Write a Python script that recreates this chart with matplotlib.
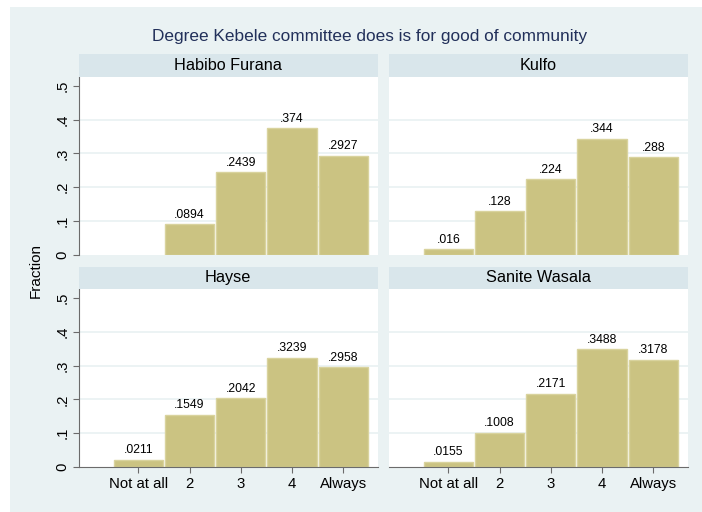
import matplotlib.pyplot as plt
from matplotlib.patches import Rectangle

plt.rcParams['font.family'] = ['Liberation Sans', 'DejaVu Sans']

categories = ['Not at all', '2', '3', '4', 'Always']
habibo = [0, 0.0894, 0.2439, 0.374, 0.2927]
kulfo = [0.016, 0.128, 0.224, 0.344, 0.288]
hayse = [0.0211, 0.1549, 0.2042, 0.3239, 0.2958]
sanite = [0.0155, 0.1008, 0.2171, 0.3488, 0.3178]
yticks = [0, 0.1, 0.2, 0.3, 0.4, 0.5]
ytick_labels = ['0', '.1', '.2', '.3', '.4', '.5']

panels = [
    ('Habibo Furana', habibo, True, False),
    ('Kulfo', kulfo, False, False),
    ('Hayse', hayse, True, True),
    ('Sanite Wasala', sanite, False, True),
]

BG = '#eaf2f3'
STRIP = '#d9e6eb'
BAR = '#cbc382'
BAR_EDGE = '#d9d39e'
AXIS = '#6b6b6b'

W, H = 702, 512
fig = plt.figure(figsize=(W / 100, H / 100), dpi=100, facecolor='white')
fig.patches.append(Rectangle((10 / W, 0), 1 - 10 / W, 1 - 7 / H,
                             transform=fig.transFigure, facecolor=BG,
                             edgecolor='none', zorder=-10))

fig.text(369.5 / W, 1 - 37 / H, 'Degree Kebele committee does is for good of community',
         ha='center', va='center', fontsize=12.4, color='#22305a')
fig.text(36 / W, 1 - 270 / H, 'Fraction', rotation=90, ha='center', va='center',
         fontsize=11)

lefts = [79, 389]
width = 298.5
tops = [76.7, 289]
height = 177.8
strip_h = 22.3

x = list(range(1, len(categories) + 1))

for i, (name, vals, show_y, show_x) in enumerate(panels):
    col, row = i % 2, i // 2
    l, t = lefts[col], tops[row]
    ax = fig.add_axes([l / W, 1 - (t + height) / H, width / W, height / H])
    ax.set_facecolor('white')
    ax.set_xlim(-0.16, 5.67)
    ax.set_ylim(0, 0.5276)

    for y in yticks[1:-1]:
        ax.axhline(y, color=BG, lw=1.3, zorder=0)

    bx = [xi for xi, v in zip(x, vals) if v > 0]
    bv = [v for v in vals if v > 0]
    ax.bar(bx, bv, width=0.96, color=BAR, edgecolor=BAR_EDGE, linewidth=1.0, zorder=2)
    for xi, v in zip(bx, bv):
        lab = f'{v:.4g}'.lstrip('0')
        ax.text(xi, v + 0.028, lab, ha='center', va='center', fontsize=8.8)

    for s in ['top', 'right']:
        ax.spines[s].set_visible(False)
    ax.spines['left'].set_visible(show_y)
    ax.spines['left'].set_color(AXIS)
    ax.spines['bottom'].set_visible(show_x)
    ax.spines['bottom'].set_color(AXIS)

    if show_y:
        ax.set_yticks(yticks)
        ax.set_yticklabels(ytick_labels, rotation=90, va='center', fontsize=10.7)
        ax.tick_params(axis='y', length=4, color=AXIS, pad=3)
    else:
        ax.set_yticks([])

    if show_x:
        ax.set_xticks(x)
        ax.set_xticklabels(categories, fontsize=10.7)
        ax.tick_params(axis='x', length=4, color=AXIS, pad=3)
    else:
        ax.set_xticks([])

    sax = fig.add_axes([l / W, 1 - t / H, width / W, strip_h / H])
    sax.set_facecolor(STRIP)
    sax.set_xticks([])
    sax.set_yticks([])
    for s in sax.spines.values():
        s.set_visible(False)
    sax.text(0.5, 0.5, name, ha='center', va='center', fontsize=11.7,
             transform=sax.transAxes)

fig.savefig('out.png', dpi=100)
